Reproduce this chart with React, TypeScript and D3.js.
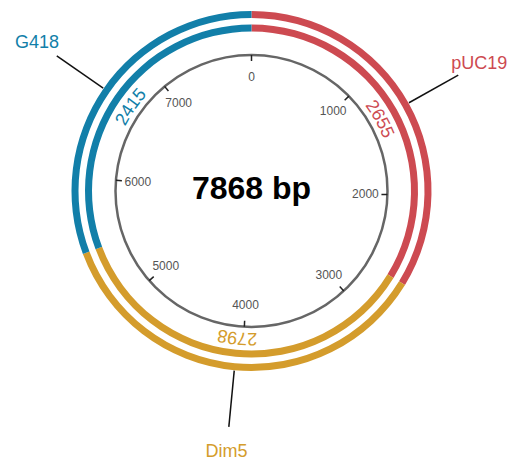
import React from "react";
import * as d3 from "d3";

const totalLength = 7868;
const featureNames = ["pUC19", "Dim5", "G418"];
const featureStarts = [0, 2655, 5453];
const featureLengths = [2655, 2798, 2415];
const featureColors = ["#cd4a51", "#d49c2c", "#127fa9"];
const tickValues = [0, 1000, 2000, 3000, 4000, 5000, 6000, 7000];
const centerTitle = "7868 bp";

const W = 510;
const H = 462;
const cx = 251.5;
const cy = 191;

export default function App() {
  const angle = d3.scaleLinear().domain([0, totalLength]).range([0, 2 * Math.PI]);
  const rGray = 136;
  const rInner = 163;
  const rOuter = 176.5;
  const bandW = 7;
  const rText = 148;
  const rLabel = 261;
  const rLineStart = 180.5;
  const rLineEnd = 237;

  const arc = d3.arc<any>();
  const pt = (a: number, r: number) => [cx + r * Math.sin(a), cy - r * Math.cos(a)];

  const textPathD = `M ${cx} ${cy - rText} A ${rText} ${rText} 0 1 1 ${cx} ${cy + rText} A ${rText} ${rText} 0 1 1 ${cx} ${cy - rText}`;

  return (
    <svg width={W} height={H} style={{ position: "absolute", left: 0, top: 0 }} fontFamily="Arial, 'Liberation Sans', sans-serif">
      <defs>
        <path id="labelCircle" d={textPathD} fill="none" />
      </defs>
      {/* gray backbone */}
      <circle cx={cx} cy={cy} r={rGray} fill="none" stroke="#666" strokeWidth={2.5} />
      {tickValues.map((t) => {
        const a = angle(t);
        const [x1, y1] = pt(a, rGray);
        const [x2, y2] = pt(a, rGray - 6);
        const [lx, ly] = pt(a, 114);
        return (
          <g key={t}>
            <line x1={x1} y1={y1} x2={x2} y2={y2} stroke="#222" strokeWidth={1.5} />
            <text x={lx} y={ly} textAnchor="middle" dominantBaseline="central" fontSize={12} fill="#555">
              {t}
            </text>
          </g>
        );
      })}
      {/* feature bands */}
      {featureNames.map((name, i) => {
        const a0 = angle(featureStarts[i]);
        const a1 = angle(featureStarts[i] + featureLengths[i]);
        const am = (a0 + a1) / 2;
        const [lx1, ly1] = pt(am, rLineStart);
        const [lx2, ly2] = pt(am, rLineEnd);
        const [tx, ty] = pt(am, rLabel);
        return (
          <g key={name}>
            <path
              transform={`translate(${cx},${cy})`}
              d={arc({ innerRadius: rInner - bandW / 2, outerRadius: rInner + bandW / 2, startAngle: a0, endAngle: a1 }) || ""}
              fill={featureColors[i]}
            />
            <path
              transform={`translate(${cx},${cy})`}
              d={arc({ innerRadius: rOuter - bandW / 2, outerRadius: rOuter + bandW / 2, startAngle: a0, endAngle: a1 }) || ""}
              fill={featureColors[i]}
            />
            <line x1={lx1} y1={ly1} x2={lx2} y2={ly2} stroke="#111" strokeWidth={1.5} />
            <text x={tx} y={ty} textAnchor="middle" dominantBaseline="central" fontSize={18} fill={featureColors[i]}>
              {name}
            </text>
            <text fontSize={18} fill={featureColors[i]} dominantBaseline="central">
              <textPath href="#labelCircle" startOffset={am * rText} textAnchor="middle">
                {featureLengths[i]}
              </textPath>
            </text>
          </g>
        );
      })}
      <text x={cx} y={188} textAnchor="middle" dominantBaseline="central" fontSize={32} fontWeight="bold" fill="#000">
        {centerTitle}
      </text>
    </svg>
  );
}
